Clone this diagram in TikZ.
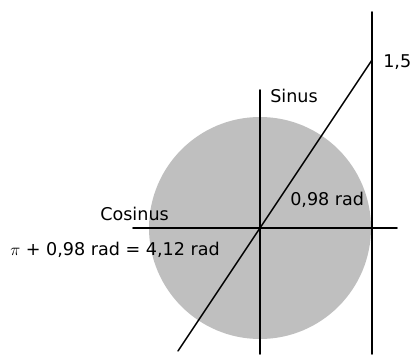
\documentclass[tikz,border=0pt]{standalone}
\usepackage{fontspec}
\setmainfont{DejaVu Sans}
\begin{document}
\begin{tikzpicture}[x=0.025cm,y=0.025cm,font=\fontsize{12.5}{15}\selectfont, line join=round, line cap=round]
	\useasboundingbox (0,0) rectangle (411,354);
	\coordinate (O) at (260,126);
	\fill[black!25] (O) circle(111);
	\coordinate (L) at (133,126);\coordinate (R) at (397,126);
	\coordinate (S) at (260,264);\coordinate (Sb) at (260,0);
	\coordinate (T) at (372,342);\coordinate (Tb) at (372,0);
	\coordinate (P) at (372,294);\coordinate (Q) at (178,3);
	\draw[line width=1.2pt] (L)--(R);
	\draw[line width=1.2pt] (Sb)--(S);
	\draw[line width=1.2pt] (Tb)--(T);
	\draw[line width=1pt] (Q)--(O)--(P);
	\node[anchor=west,inner sep=0pt] (un) at (383,292) {1,5};
	\node[anchor=west,inner sep=0pt] (sin) at (270,258) {Sinus};
	\node[anchor=west,inner sep=0pt] (ang) at (290,154) {0,98 rad};
	\node[anchor=west,inner sep=0pt] (cos) at (100,140) {Cosinus};
	\node[anchor=west,inner sep=0pt] (pi) at (10,104) {$\pi$ + 0,98 rad = 4,12 rad};
\end{tikzpicture}
\end{document}
